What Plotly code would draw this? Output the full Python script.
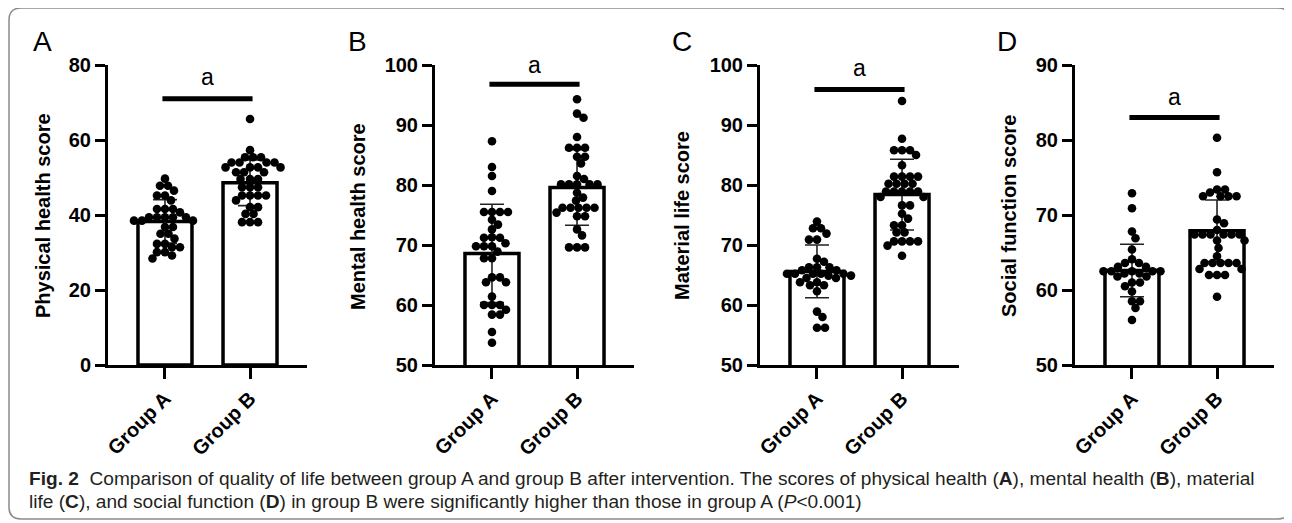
import plotly.graph_objects as go

W, H = 1292, 523
OFF = 8                      # page body margin of the browser
FW, FH = W - OFF, H - OFF    # figure size so it fits the window exactly

categories = ["Group A", "Group B"]

# ---- Panel A: Physical health ----
phys_a = [49.7, 47.8, 47.8, 46.5, 45.2, 45.2, 43.9, 41.6, 41.6, 41.6, 40.7, 39.4, 39.4, 39.4, 39.4, 39.4,
          38.5, 38.5, 38.5, 36.8, 36.8, 35.0, 35.0, 33.7, 32.3, 32.3, 31.4, 31.4, 30.1, 30.1, 29.2, 28.4]
phys_b = [65.6, 57.3, 55.4, 55.4, 55.4, 54.0, 54.0, 54.0, 54.0, 52.7, 52.7, 52.7, 52.7, 51.4, 51.4, 51.4,
          49.6, 49.6, 49.6, 47.4, 47.4, 47.4, 45.2, 45.2, 45.2, 45.2, 43.9, 42.1, 42.1, 40.3, 40.3, 38.1, 38.1, 38.1]
phys_mean = [38.3, 48.6]
phys_sd = [5.8, 6.1]

# ---- Panel B: Mental health ----
ment_a = [87.3, 83.0, 81.5, 79.0, 75.5, 75.5, 75.5, 75.5, 74.2, 73.4, 72.6, 71.3, 71.2, 71.2, 70.3, 69.8,
          69.8, 69.8, 68.9, 67.8, 67.8, 64.6, 64.6, 63.8, 63.8, 61.4, 60.0, 60.0, 60.0, 59.2, 58.4, 58.4, 55.5, 53.7]
ment_b = [94.3, 91.9, 91.2, 88.0, 86.2, 86.2, 86.2, 84.7, 84.7, 83.6, 81.5, 81.0, 80.1, 80.1, 80.1, 80.1,
          80.1, 78.7, 77.9, 77.4, 76.2, 76.2, 76.2, 76.2, 76.2, 75.4, 74.8, 74.8, 72.6, 71.6, 69.6, 69.6, 69.6]
ment_mean = [68.6, 79.6]
ment_sd = [8.2, 6.3]

# ---- Panel C: Material life ----
mat_a = [73.9, 72.8, 72.8, 71.9, 70.9, 70.9, 67.7, 67.2, 66.3, 66.3, 66.3, 65.8, 65.8, 65.2, 65.2, 65.2,
         65.2, 65.2, 64.9, 64.9, 64.5, 64.5, 63.8, 63.8, 63.3, 63.3, 62.3, 58.9, 58.0, 56.2, 56.2]
mat_b = [94.0, 87.7, 85.8, 85.8, 85.8, 85.0, 83.3, 81.4, 81.4, 81.4, 81.4, 80.2, 80.2, 80.2, 80.2, 78.9,
         78.9, 78.9, 78.9, 78.9, 78.0, 78.0, 76.6, 76.6, 75.2, 74.4, 73.3, 73.3, 72.1, 72.1, 70.6, 70.6,
         70.6, 70.6, 69.9, 68.2]
mat_mean = [65.6, 78.4]
mat_sd = [4.4, 5.9]

# ---- Panel D: Social function ----
soc_a = [72.9, 70.9, 67.8, 66.9, 65.4, 64.1, 63.6, 63.6, 63.1, 63.1, 62.5, 62.5, 62.5, 62.5, 62.5, 62.2,
         62.2, 61.8, 61.8, 61.0, 61.0, 60.5, 59.8, 58.5, 58.5, 57.6, 56.0]
soc_b = [80.3, 75.7, 73.4, 73.4, 73.0, 72.5, 72.5, 72.5, 72.5, 69.4, 68.9, 68.0, 67.4, 67.4, 67.4, 67.4,
         67.4, 67.4, 66.6, 66.6, 65.6, 64.5, 63.6, 63.6, 63.6, 63.6, 63.6, 62.8, 62.8, 62.0, 62.0, 62.0, 59.1]
soc_mean = [62.6, 67.9]
soc_sd = [3.5, 4.1]

panel_letters = ["A", "B", "C", "D"]
y_titles = ["Physical health score", "Mental health score", "Material life score", "Social function score"]
y_ranges = [[0, 80], [50, 100], [50, 100], [50, 90]]
y_ticks = [[0, 20, 40, 60, 80], [50, 60, 70, 80, 90, 100], [50, 60, 70, 80, 90, 100], [50, 60, 70, 80, 90]]
sig_levels = [71.0, 96.8, 95.9, 83.0]
sig_label = "a"

caption_1 = ("<b>Fig. 2</b>  Comparison of quality of life between group A and group B after intervention. "
             "The scores of physical health (<b>A</b>), mental health (<b>B</b>), material")
caption_2 = ("life (<b>C</b>), and social function (<b>D</b>) in group B were significantly higher than those "
             "in group A (<i>P</i>&lt;0.001)")

panels = [
    (phys_a, phys_b, phys_mean, phys_sd),
    (ment_a, ment_b, ment_mean, ment_sd),
    (mat_a, mat_b, mat_mean, mat_sd),
    (soc_a, soc_b, soc_mean, soc_sd),
]

# layout geometry (window pixels)
x_left_px = [108, 435, 760, 1075]
x_width_px = 199
y_top_px, y_bot_px = 65, 365
XR = [-0.67, 1.67]
px_per_cat = x_width_px / (XR[1] - XR[0])
sig_text_px = [77, 65, 68, 97]
title_x_px = [43, 358, 682, 1009]
letter_x_px = [42, 357, 682, 1007]


def fx(px):
    return (px - OFF) / FW


def fy(py):
    return 1 - (py - OFF) / FH


def swarm(values, px_per_unit, diam=7.6):
    order = sorted(range(len(values)), key=lambda i: -values[i])
    placed = []
    offs = [0.0] * len(values)
    cands = [0.0]
    step = 0.5
    k = 1
    while k * step <= 80:
        cands += [k * step, -k * step]
        k += 1
    for i in order:
        yp = values[i] * px_per_unit
        for c in cands:
            ok = True
            for (xq, yq) in placed:
                if (c - xq) ** 2 + (yp - yq) ** 2 < diam ** 2:
                    ok = False
                    break
            if ok:
                offs[i] = c
                placed.append((c, yp))
                break
    return offs


fig = go.Figure()
BLACK = "#000000"
font_main = "Arial, Liberation Sans, Helvetica, sans-serif"

layout_axes = {}
annotations = []
shapes = []

for p, (ga, gb, means, sds) in enumerate(panels):
    n = p + 1
    xa = "x" if n == 1 else f"x{n}"
    ya = "y" if n == 1 else f"y{n}"
    xl = x_left_px[p]
    xdom = [fx(xl), fx(xl + x_width_px)]
    ydom = [fy(y_bot_px), fy(y_top_px)]
    yr = y_ranges[p]
    ppu = (y_bot_px - y_top_px) / (yr[1] - yr[0])

    fig.add_trace(go.Bar(
        x=[0, 1], y=means, width=0.635, xaxis=xa, yaxis=ya,
        marker=dict(color="white", line=dict(color=BLACK, width=3.5)),
        error_y=dict(type="data", array=sds, visible=True, color="#222222", thickness=1.6, width=12),
        showlegend=False, hoverinfo="skip",
    ))
    for gi, vals in enumerate([ga, gb]):
        offs = swarm(vals, ppu)
        fig.add_trace(go.Scatter(
            x=[gi + o / px_per_cat for o in offs], y=vals, mode="markers", xaxis=xa, yaxis=ya,
            marker=dict(color=BLACK, size=8.6, line=dict(width=0)),
            showlegend=False, hoverinfo="skip", cliponaxis=False,
        ))

    layout_axes["xaxis" if n == 1 else f"xaxis{n}"] = dict(
        domain=xdom, range=XR, anchor=ya, tickvals=[0, 1], ticktext=categories, tickangle=-45,
        showline=True, linewidth=3, linecolor=BLACK, ticks="outside", ticklen=11, tickwidth=3,
        tickcolor=BLACK, showgrid=False, zeroline=False, automargin=False,
        tickfont=dict(family=font_main, size=20, color=BLACK, weight="bold"),
    )
    layout_axes["yaxis" if n == 1 else f"yaxis{n}"] = dict(
        domain=ydom, range=yr, anchor=xa, tickvals=y_ticks[p],
        showline=True, linewidth=3, linecolor=BLACK, ticks="outside", ticklen=10, tickwidth=3,
        tickcolor=BLACK, showgrid=False, zeroline=False, automargin=False,
        tickfont=dict(family=font_main, size=20, color=BLACK, weight="bold"),
    )

    # significance line and label
    shapes.append(dict(type="line", xref=xa, yref=ya, x0=-0.03, x1=1.03,
                       y0=sig_levels[p], y1=sig_levels[p], line=dict(color=BLACK, width=5)))
    annotations.append(dict(xref=xa, yref="paper", x=0.5, y=fy(sig_text_px[p]), text=sig_label,
                            showarrow=False, font=dict(family=font_main, size=23, color=BLACK),
                            xanchor="center", yanchor="middle"))
    # y-axis title
    annotations.append(dict(xref="paper", yref="paper", x=fx(title_x_px[p]), y=fy(216), text=y_titles[p],
                            textangle=-90, showarrow=False, xanchor="center", yanchor="middle",
                            font=dict(family=font_main, size=20, color=BLACK, weight="bold")))
    # panel letter
    annotations.append(dict(xref="paper", yref="paper", x=fx(letter_x_px[p]), y=fy(41),
                            text=panel_letters[p], showarrow=False, xanchor="center", yanchor="middle",
                            font=dict(family=font_main, size=28, color=BLACK)))

# caption
cap_font = dict(family="Liberation Sans Narrow, Arial Narrow, sans-serif", size=19.1, color="#231f20")
annotations.append(dict(xref="paper", yref="paper", x=fx(27), y=fy(478), text=caption_1,
                        showarrow=False, xanchor="left", yanchor="middle", font=cap_font))
annotations.append(dict(xref="paper", yref="paper", x=fx(27), y=fy(501), text=caption_2,
                        showarrow=False, xanchor="left", yanchor="middle", font=cap_font))

# rounded frame
L, T, R, B, r = 9, 8, 1290, 519, 12


def P(x, y):
    return f"{fx(x):.5f},{fy(y):.5f}"


path = (f"M {P(L + r, T)} L {P(R - r, T)} Q {P(R, T)} {P(R, T + r)} L {P(R, B - r)} "
        f"Q {P(R, B)} {P(R - r, B)} L {P(L + r, B)} Q {P(L, B)} {P(L, B - r)} L {P(L, T + r)} "
        f"Q {P(L, T)} {P(L + r, T)} Z")
shapes.append(dict(type="path", xref="paper", yref="paper", path=path,
                   line=dict(color="#8a8a8a", width=1.5), layer="below"))

fig.update_layout(
    width=FW, height=FH, margin=dict(l=0, r=0, t=0, b=0, autoexpand=False),
    paper_bgcolor="white", plot_bgcolor="white",
    barmode="overlay", shapes=shapes, annotations=annotations,
    **layout_axes,
)

fig.write_html("out.html")
